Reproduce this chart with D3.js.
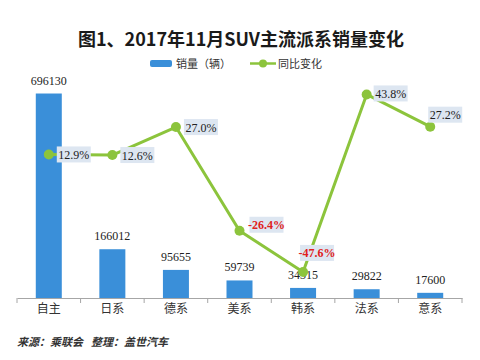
<!DOCTYPE html>
<html><head><meta charset="utf-8">
<script src="https://cdn.jsdelivr.net/npm/d3@7"></script>
<style>body{margin:0;background:#fff}svg{display:block}</style>
</head><body>
<svg id="c" width="480" height="360"></svg>
<script>
const categories = ["自主","日系","德系","美系","韩系","法系","意系"];
const sales = [696130,166012,95655,59739,34315,29822,17600];
const yoy = [12.9,12.6,27.0,-26.4,-47.6,43.8,27.2];
const yoyLabels = ["12.9%","12.6%","27.0%","-26.4%","-47.6%","43.8%","27.2%"];
// label offsets relative to point (dx, dy of label box center)
const labelOffsets = [[25,0],[25,0],[25,0],[27,-6],[14,-19],[24,-1],[15,-12]];
const footerParts = ["来源：乘联会","整理：盖世汽车"];

const svg = d3.select("#c");
const pLeft = 17, pRight = 462, pBottom = 298, pTop = 63;
const serif = "'Liberation Serif','Times New Roman','DejaVu Serif',serif";
const x = d3.scaleBand().domain(categories).range([pLeft, pRight]);
const y = d3.scaleLinear().domain([0, 800000]).range([pBottom, pTop]);
const y2 = d3.scaleLinear().domain([-60, 60]).range([pBottom - 2, pTop]);

// title
svg.append("text").attr("x", 241).attr("y", 46).attr("text-anchor","middle")
  .attr("font-family","'Noto Sans CJK SC', sans-serif").attr("font-weight","bold")
  .attr("font-size", 18).attr("fill","#1a1a1a").text("图1、2017年11月SUV主流派系销量变化");

// legend
const lg = svg.append("g");
lg.append("rect").attr("x",150).attr("y",60).attr("width",22).attr("height",7).attr("rx",2).attr("fill","#3a8fd9");
lg.append("text").attr("x",176).attr("y",68).attr("font-family","'Noto Sans CJK SC', sans-serif")
  .attr("font-size",11).attr("fill","#333").text("销量（辆）");
lg.append("line").attr("x1",250).attr("x2",276).attr("y1",63.5).attr("y2",63.5).attr("stroke","#8cc43c").attr("stroke-width",2.5);
lg.append("circle").attr("cx",263).attr("cy",63.5).attr("r",4).attr("fill","#8cc43c");
lg.append("text").attr("x",278).attr("y",68).attr("font-family","'Noto Sans CJK SC', sans-serif")
  .attr("font-size",11).attr("fill","#333").text("同比变化");

// bars
const bw = 26;
svg.append("g").selectAll("rect").data(sales).join("rect")
  .attr("x",(d,i)=>x(categories[i]) + x.bandwidth()/2 - bw/2)
  .attr("y",d=>y(d)).attr("width",bw).attr("height",d=>pBottom - y(d))
  .attr("fill","#3a8fd9");

// bar labels
svg.append("g").selectAll("text").data(sales).join("text")
  .attr("x",(d,i)=>x(categories[i]) + x.bandwidth()/2)
  .attr("y",d=>y(d) - 9).attr("text-anchor","middle")
  .style("font-family",serif).attr("font-size",12).attr("fill","#222")
  .text(d=>d);

// axis
const axis = d3.axisBottom(x).tickSize(0).tickFormat(d=>d);
const ag = svg.append("g").attr("transform",`translate(0,${pBottom})`).call(axis);
ag.select(".domain").attr("stroke","#a6a6a6").attr("stroke-width",1.2);
ag.selectAll("text").attr("dy", 12).attr("font-family","'Noto Sans CJK SC', sans-serif").attr("font-size",12).attr("fill","#333");
const bounds = categories.map(c=>x(c)).concat([pRight]);
ag.selectAll("line.bt").data(bounds).join("line").attr("class","bt")
  .attr("x1",d=>d).attr("x2",d=>d).attr("y1",0).attr("y2",5).attr("stroke","#a6a6a6");

// line
const cx = (i)=>x(categories[i]) + x.bandwidth()/2;
const line = d3.line().x((d,i)=>cx(i)).y(d=>y2(d));
svg.append("path").datum(yoy).attr("d",line).attr("fill","none")
  .attr("stroke","#8cc43c").attr("stroke-width",3).attr("stroke-linejoin","round");
svg.append("g").selectAll("circle").data(yoy).join("circle")
  .attr("cx",(d,i)=>cx(i)).attr("cy",d=>y2(d)).attr("r",5).attr("fill","#8cc43c");

// percentage labels
const pl = svg.append("g").selectAll("g").data(yoy).join("g")
  .attr("transform",(d,i)=>`translate(${cx(i)+labelOffsets[i][0]},${y2(d)+labelOffsets[i][1]})`);
pl.append("rect").attr("x",-17).attr("y",-8).attr("width",34).attr("height",16).attr("fill","#dde6f1");
pl.append("text").attr("text-anchor","middle").attr("dy",4.5)
  .style("font-family",serif).attr("font-size",12)
  .attr("font-weight",d=>d<0?"bold":"normal")
  .attr("fill",d=>d<0?"#e02020":"#222")
  .text((d,i)=>yoyLabels[i]);

// footer
svg.append("g").selectAll("text").data(footerParts).join("text")
  .attr("x",(d,i)=>i===0?17:91).attr("y",346)
  .attr("font-family","'Noto Sans CJK SC', sans-serif")
  .attr("font-size",11).attr("font-style","italic").attr("font-weight","bold").attr("fill","#333")
  .text(d=>d);
</script>
</body></html>
